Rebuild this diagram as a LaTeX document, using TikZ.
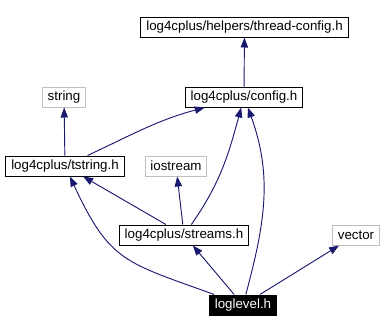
\documentclass[tikz,border=0pt]{standalone}
\usepackage{fontspec}
\setmainfont{Liberation Sans}
\usetikzlibrary{arrows.meta}
\definecolor{edgeblue}{RGB}{25,25,112}
\definecolor{extgray}{RGB}{191,191,191}

\begin{document}
\begin{tikzpicture}[x=0.75pt,y=-0.75pt,
  hdr/.style={draw=black,line width=0.75pt,font=\fontsize{10}{12}\selectfont,
    inner xsep=4pt,inner ysep=0pt,minimum height=15pt},
  ext/.style={hdr,draw=extgray},
  cur/.style={hdr,fill=black,text=white},
  dep/.style={draw=edgeblue,line width=0.7pt,-{Triangle[length=7.5pt,width=5.5pt]}}]
\useasboundingbox (0,0) rectangle (385,332);
% headers
\node[hdr] (threadcfg) at (244.5,27) {log4cplus/helpers/thread-config.h};
\node[hdr] (config) at (244,97) {log4cplus/config.h};
\node[ext] (string) at (64,97) {string};
\node[hdr] (tstring) at (65,166) {log4cplus/tstring.h};
\node[ext] (iostream) at (176,166) {iostream};
\node[hdr] (streams) at (184,235) {log4cplus/streams.h};
\node[ext] (vector) at (356,235) {vector};
\node[cur] (loglevel) at (243,305) {loglevel.h};
% includes
\draw[dep] (config) -- (threadcfg);
\draw[dep] (tstring) -- (string);
\draw[dep] (tstring) to[out=25,in=195] (config);
\draw[dep] (streams) -- (tstring);
\draw[dep] (streams) -- (iostream);
\draw[dep] (streams) to[out=55,in=-105] (config);
\draw[dep] (loglevel) to[out=160,in=-65,looseness=1.3] (tstring);
\draw[dep] (loglevel) -- (streams);
\draw[dep] (loglevel) to[out=75,in=-70] (config);
\draw[dep] (loglevel) -- (vector);
\end{tikzpicture}
\end{document}
